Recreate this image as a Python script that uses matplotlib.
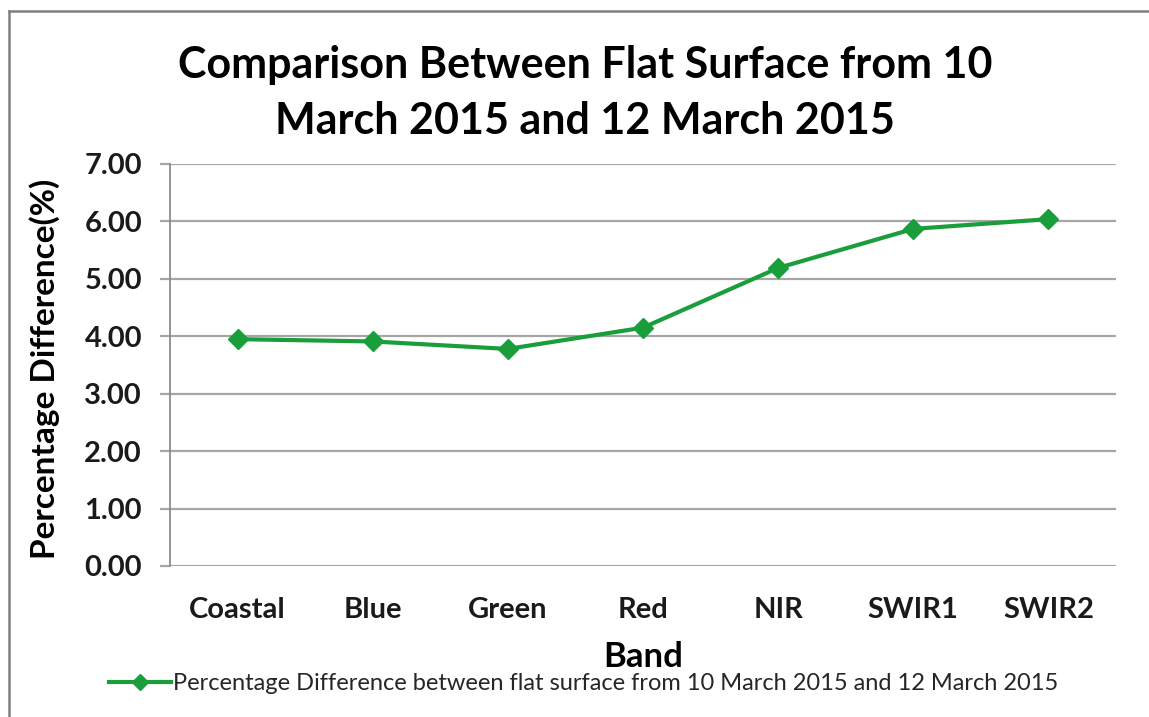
import matplotlib
matplotlib.use("Agg")
import matplotlib.pyplot as plt
from matplotlib.lines import Line2D

# Band names and percentage differences between the two acquisition dates
bands = ["Coastal", "Blue", "Green", "Red", "NIR", "SWIR1", "SWIR2"]
pct_diff = [3.95, 3.91, 3.78, 4.15, 5.19, 5.87, 6.04]
y_ticks = [0, 1, 2, 3, 4, 5, 6, 7]

title_text = "Comparison Between Flat Surface from 10\nMarch 2015 and 12 March 2015"
series_name = "Percentage Difference between flat surface from 10 March 2015 and 12 March 2015"

GREEN = "#1a9e3c"
GRID = "#a6a6a6"
FONT = ["Lato", "DejaVu Sans"]

plt.rcParams["font.family"] = FONT

W, H = 1149, 717
fig = plt.figure(figsize=(W / 100, H / 100), dpi=100)
fig.patch.set_facecolor("white")

# chart-area frame (top and left edges)
fig.add_artist(Line2D([9 / W, 9 / W], [0, 1 - 11 / H], transform=fig.transFigure,
                      color="#808080", lw=1.8))
fig.add_artist(Line2D([9 / W, 1], [1 - 11 / H, 1 - 11 / H], transform=fig.transFigure,
                      color="#808080", lw=1.8))

left, right = 170 / W, 1116 / W
bottom, top = 1 - 566 / H, 1 - 164 / H
ax = fig.add_axes([left, bottom, right - left, top - bottom])

x = list(range(len(bands)))
ax.plot(x, pct_diff, color=GREEN, lw=3.0, marker="D", markersize=10.5,
        markeredgecolor=GREEN, markerfacecolor=GREEN, zorder=3,
        solid_joinstyle="miter")

ax.set_xlim(-0.5, len(bands) - 0.5)
ax.set_ylim(0, 7)
ax.set_yticks(y_ticks)
ax.set_yticklabels([f"{v:.2f}" for v in y_ticks])
ax.set_xticks(x)
ax.set_xticklabels(bands)

ax.grid(axis="y", color=GRID, lw=1.6, zorder=0)
ax.set_axisbelow(True)
for side in ("top", "right", "bottom"):
    ax.spines[side].set_visible(False)
ax.spines["left"].set_color("#8c8c8c")
ax.spines["left"].set_linewidth(1.3)

ax.tick_params(axis="y", length=7.2, width=1.6, color=GRID, pad=13,
               labelsize=21, labelcolor="#1a1a1a")
ax.tick_params(axis="x", length=0, pad=22, labelsize=21, labelcolor="#1a1a1a")
for lbl in ax.get_xticklabels() + ax.get_yticklabels():
    lbl.set_fontweight("bold")

ax.set_ylabel("Percentage Difference(%)", fontsize=24, fontweight="bold", color="black")
ax.yaxis.set_label_coords((45 - 170) / 946, 0.49)
ax.set_xlabel("Band", fontsize=25, fontweight="bold", color="black")
ax.xaxis.set_label_coords((643 - 170) / 946, (566 - 657) / 402)
ax.xaxis.label.set_va("center")
ax.yaxis.label.set_va("center")

fig.text(0.509, 1 - 93 / H, title_text, ha="center", va="center",
         fontsize=31, fontweight="bold", linespacing=1.5, color="black")

handle = Line2D([], [], color=GREEN, lw=3.0, marker="D", markersize=8,
                markerfacecolor=GREEN, markeredgecolor=GREEN)
fig.legend([handle], [series_name], loc="center", bbox_to_anchor=(0.508, 1 - 684 / H),
           frameon=False, fontsize=17, handlelength=2.6, handletextpad=0.1,
           borderpad=0, labelcolor="#262626")

fig.savefig("out.png", dpi=100, facecolor="white")
